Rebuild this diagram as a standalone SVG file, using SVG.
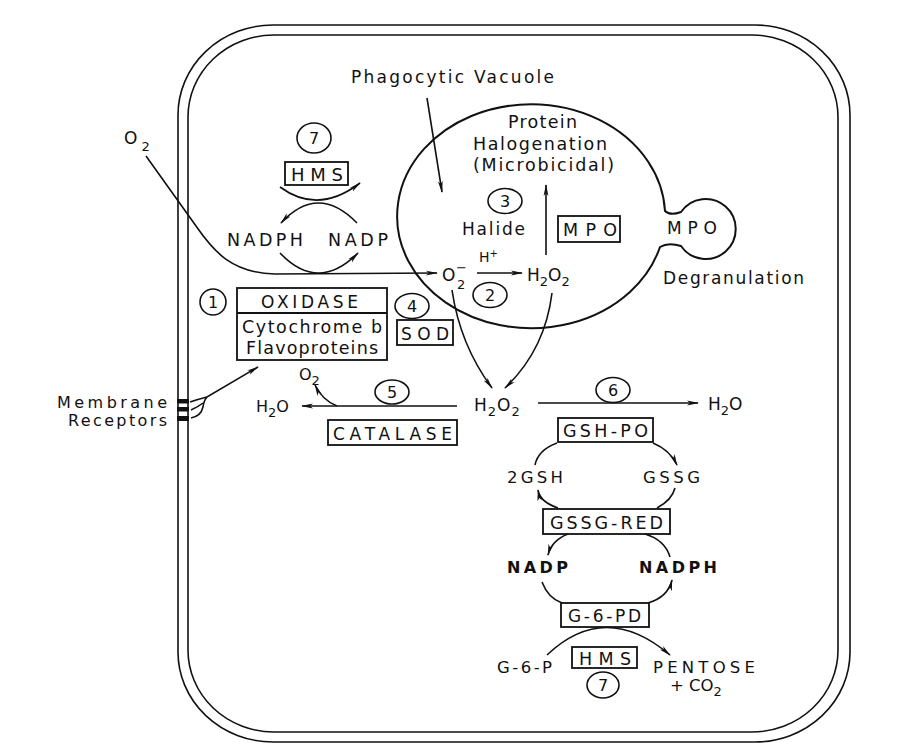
<svg xmlns="http://www.w3.org/2000/svg" width="910" height="753" viewBox="0 0 910 753">
<style>
.t{font-family:"DejaVu Sans","Liberation Sans",sans-serif;fill:#111;}
.ln{fill:none;stroke:#111;stroke-width:1.6;}
.bx{fill:none;stroke:#111;stroke-width:1.8;}
.cir{fill:#fff;stroke:#111;stroke-width:1.6;}
.num{font-family:"DejaVu Sans","Liberation Sans",sans-serif;fill:#111;font-size:16px;text-anchor:middle;}
.sub{font-size:13px;}
</style>
<defs>
<marker id="ah" viewBox="0 0 12 6" refX="11" refY="3" markerWidth="12" markerHeight="6" markerUnits="userSpaceOnUse" orient="auto"><path d="M0,0.6 L12,3 L0,5.4 L3,3 z" fill="#111"/></marker>
</defs>
<rect width="910" height="753" fill="#fff"/>

<g id="cell">
<rect x="178" y="25" width="672" height="717" rx="95" ry="90" class="ln"/>
<rect x="188" y="35" width="650" height="697" rx="86" ry="82" class="ln"/>
<rect x="177" y="399" width="12" height="4.5" fill="#111"/>
<rect x="177" y="407" width="12" height="4.5" fill="#111"/>
<rect x="177" y="416" width="12" height="5" fill="#111"/>
</g>

<g id="vacuole">
<path d="M665,211 A134 112 0 1 0 660,247 Q668,242 681,246 A30 30 0 1 0 681,212 Q670,216 665,211 Z" fill="none" stroke="#111" stroke-width="2"/>
</g>

<g id="connectors">
<path class="ln" d="M146,156 L196,226 C214,252 232,273 275,274 L437,273" marker-end="url(#ah)"/>
<path class="ln" d="M280,187 Q318,215 360,183" marker-end="url(#ah)"/>
<path class="ln" d="M357,223 Q318,183 281,223" marker-end="url(#ah)"/>
<path class="ln" d="M280,253 Q318,293 358,253" marker-end="url(#ah)"/>
<path class="ln" d="M427,98 L442,192" marker-end="url(#ah)"/>
<path class="ln" d="M546,255 L546,185" marker-end="url(#ah)"/>
<path class="ln" d="M477,273 L522,273" marker-end="url(#ah)"/>
<path class="ln" d="M452,290 Q460,345 492,388" marker-end="url(#ah)"/>
<path class="ln" d="M552,293 Q545,350 505,388" marker-end="url(#ah)"/>
<path class="ln" d="M457,406 L302,406" marker-end="url(#ah)"/>
<path class="ln" d="M337,406 Q322,400 315,385" marker-end="url(#ah)"/>
<path class="ln" d="M538,403 L698,403" marker-end="url(#ah)"/>
<path class="ln" d="M190,402 Q199,399 207,397 L258,367" marker-end="url(#ah)"/>
<path class="ln" d="M191,418 Q201,416 203,407 Q204,400 207,397"/>
<path class="ln" d="M191,410 Q198,407 203,403"/>
<path class="ln" d="M557,443 Q538,450 535,465"/>
<path class="ln" d="M653,443 Q670,450 677,465" marker-end="url(#ah)"/>
<path class="ln" d="M558,508 Q540,502 538,490" marker-end="url(#ah)"/>
<path class="ln" d="M675,488 Q672,500 657,508"/>
<path class="ln" d="M568,534 Q552,540 548,555" marker-end="url(#ah)"/>
<path class="ln" d="M645,534 Q665,540 670,557"/>
<path class="ln" d="M542,582 Q548,598 562,603"/>
<path class="ln" d="M648,603 Q668,597 672,580" marker-end="url(#ah)"/>
<path class="ln" d="M547,655 Q605,600 670,655" marker-end="url(#ah)"/>
</g>

<g id="o2-in"><text class="t" x="124" y="144" font-size="17">O<tspan class="sub" dx="4" dy="7" font-size="14">2</tspan></text></g>

<g id="hms-top">
<ellipse class="cir" cx="314" cy="138" rx="17" ry="15"/>
<text class="num" x="314" y="144">7</text>
<rect class="bx" x="285" y="162" width="63" height="23"/>
<text class="t" x="291" y="181" font-size="18" textLength="52" lengthAdjust="spacing">HMS</text>
</g>
<g id="nadph-top"><text class="t" x="227" y="246" font-size="17.5" textLength="76" lengthAdjust="spacing">NADPH</text></g>
<g id="nadp-top"><text class="t" x="328" y="246" font-size="17.5" textLength="60" lengthAdjust="spacing">NADP</text></g>

<g id="phago-label"><text class="t" x="351" y="83" font-size="17" textLength="203" lengthAdjust="spacing">Phagocytic Vacuole</text></g>

<g id="halogenation">
<text class="t" x="508" y="128" font-size="17.5" textLength="69" lengthAdjust="spacing">Protein</text>
<text class="t" x="473" y="150" font-size="17.5" textLength="134" lengthAdjust="spacing">Halogenation</text>
<text class="t" x="473" y="171" font-size="17.5" textLength="141" lengthAdjust="spacing">(Microbicidal)</text>
</g>
<g id="step3">
<ellipse class="cir" cx="505" cy="201" rx="17" ry="12.5"/>
<text class="num" x="505" y="207">3</text>
<text class="t" x="462" y="235" font-size="17" textLength="63" lengthAdjust="spacing">Halide</text>
</g>
<g id="mpo-box">
<rect class="bx" x="558" y="216" width="62" height="26"/>
<text class="t" x="563" y="236" font-size="17.5" textLength="54" lengthAdjust="spacing">MPO</text>
</g>
<g id="mpo-bulb"><text class="t" x="667" y="234" font-size="17" textLength="50" lengthAdjust="spacing">MPO</text></g>
<g id="degranulation"><text class="t" x="663" y="284" font-size="17" textLength="141" lengthAdjust="spacing">Degranulation</text></g>

<g id="superoxide"><text class="t" x="442" y="281" font-size="17">O</text><text class="t" x="456" y="272" font-size="13">−</text><text class="t" x="457" y="289" font-size="13">2</text></g>
<g id="hplus"><text class="t" x="479" y="262" font-size="14">H<tspan font-size="10" dy="-5">+</tspan></text></g>
<g id="step2">
<ellipse class="cir" cx="490" cy="295" rx="17" ry="12.5"/>
<text class="num" x="490" y="301">2</text>
</g>
<g id="h2o2-vac"><text class="t" x="527" y="281" font-size="17">H<tspan class="sub" dy="5">2</tspan><tspan dy="-5">O</tspan><tspan class="sub" dy="5">2</tspan></text></g>

<g id="oxidase">
<ellipse class="cir" cx="213" cy="302" rx="13" ry="13"/>
<text class="num" x="213" y="308">1</text>
<rect class="bx" x="237" y="288" width="150" height="72"/>
<line x1="237" y1="313" x2="387" y2="313" stroke="#111" stroke-width="1.8"/>
<text class="t" x="261" y="308" font-size="17" textLength="97" lengthAdjust="spacing">OXIDASE</text>
<text class="t" x="242" y="333" font-size="17.5" textLength="140" lengthAdjust="spacing">Cytochrome b</text>
<text class="t" x="246" y="354" font-size="17.5" textLength="132" lengthAdjust="spacing">Flavoproteins</text>
</g>
<g id="sod">
<ellipse class="cir" cx="412" cy="306" rx="17" ry="12.5"/>
<text class="num" x="412" y="312">4</text>
<rect class="bx" x="397" y="320" width="56" height="25"/>
<text class="t" x="401" y="340" font-size="17" textLength="48" lengthAdjust="spacing">SOD</text>
</g>

<g id="membrane-label">
<text class="t" x="57" y="408" font-size="16" textLength="110" lengthAdjust="spacing">Membrane</text>
<text class="t" x="68" y="426" font-size="16" textLength="99" lengthAdjust="spacing">Receptors</text>
</g>

<g id="h2o2-center"><text class="t" x="474" y="411" font-size="17" letter-spacing="1">H<tspan class="sub" dy="5">2</tspan><tspan dy="-5">O</tspan><tspan class="sub" dy="5">2</tspan></text></g>

<g id="catalase">
<ellipse class="cir" cx="392" cy="392" rx="17" ry="12"/>
<text class="num" x="392" y="398">5</text>
<text class="t" x="299" y="380" font-size="16">O<tspan class="sub" dy="5">2</tspan></text>
<text class="t" x="256" y="412" font-size="16">H<tspan class="sub" dy="5">2</tspan><tspan dy="-5">O</tspan></text>
<rect class="bx" x="328" y="420" width="129" height="25"/>
<text class="t" x="333" y="440" font-size="17" textLength="119" lengthAdjust="spacing">CATALASE</text>
</g>

<g id="gsh-po">
<ellipse class="cir" cx="613" cy="390" rx="17" ry="12.5"/>
<text class="num" x="613" y="396">6</text>
<text class="t" x="708" y="410" font-size="17">H<tspan class="sub" dy="5">2</tspan><tspan dy="-5">O</tspan></text>
<rect class="bx" x="558" y="418" width="95" height="24"/>
<text class="t" x="563" y="437" font-size="17.5" textLength="85" lengthAdjust="spacing">GSH-PO</text>
</g>
<g id="gsh"><text class="t" x="507" y="483" font-size="16.5" textLength="56" lengthAdjust="spacing">2GSH</text></g>
<g id="gssg"><text class="t" x="643" y="483" font-size="16.5" textLength="57" lengthAdjust="spacing">GSSG</text></g>
<g id="gssg-red">
<rect class="bx" x="543" y="509" width="127" height="25"/>
<text class="t" x="550" y="529" font-size="17.5" textLength="113" lengthAdjust="spacing">GSSG-RED</text>
</g>
<g id="nadp-bottom"><text class="t" x="507" y="573" font-size="16" font-weight="bold" textLength="61" lengthAdjust="spacing">NADP</text></g>
<g id="nadph-bottom"><text class="t" x="639" y="573" font-size="16" font-weight="bold" textLength="78" lengthAdjust="spacing">NADPH</text></g>
<g id="g6pd">
<rect class="bx" x="561" y="603" width="88" height="24"/>
<text class="t" x="568" y="622" font-size="17" textLength="73" lengthAdjust="spacing">G-6-PD</text>
</g>
<g id="hms-bottom">
<rect class="bx" x="572" y="647" width="65" height="21"/>
<text class="t" x="579" y="665" font-size="17.5" textLength="52" lengthAdjust="spacing">HMS</text>
<ellipse class="cir" cx="603" cy="685" rx="16" ry="13"/>
<text class="num" x="603" y="691">7</text>
</g>
<g id="g6p"><text class="t" x="497" y="673" font-size="16.5" textLength="55" lengthAdjust="spacing">G-6-P</text></g>
<g id="pentose">
<text class="t" x="653" y="673" font-size="16.5" textLength="102" lengthAdjust="spacing">PENTOSE</text>
<text class="t" x="670" y="691" font-size="16.5">+ CO<tspan class="sub" dy="5">2</tspan></text>
</g>
</svg>
